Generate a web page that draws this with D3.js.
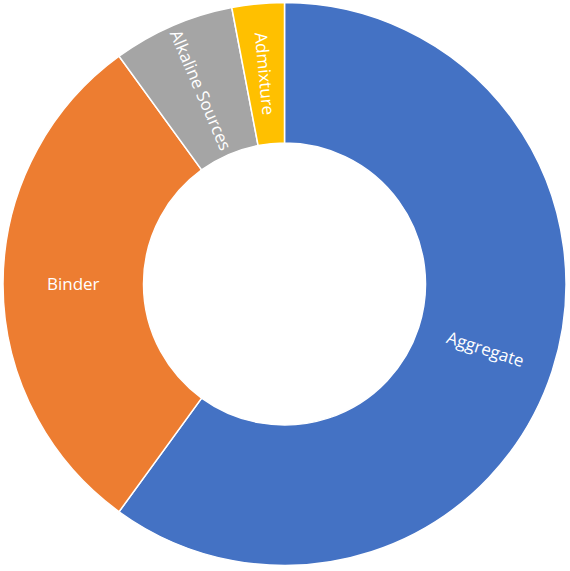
<!DOCTYPE html>
<html><head><meta charset="utf-8">
<script src="https://cdn.jsdelivr.net/npm/d3@7"></script>
<style>html,body{margin:0;padding:0;background:#fff;}</style>
</head><body>
<svg id="c" width="570" height="571"></svg>
<script>
const categories = ["Aggregate", "Binder", "Alkaline Sources", "Admixture"];
const values = [60, 30, 7, 3];
const colors = ["#4472C4", "#ED7D31", "#A5A5A5", "#FFC000"];

const svg = d3.select("#c");
const cx = 284.5, cy = 284, R = 281.5, r0 = 141;
const g = svg.append("g").attr("transform", `translate(${cx},${cy})`);
const data = categories.map((c, i) => ({name: c, value: values[i], color: colors[i]}));
const pie = d3.pie().sort(null).value(d => d.value);
const arc = d3.arc().innerRadius(r0).outerRadius(R);
const arcs = pie(data);
g.selectAll("path").data(arcs).join("path")
  .attr("d", arc).attr("fill", d => d.data.color)
  .attr("stroke", "#fff").attr("stroke-width", 1.5);
g.selectAll("text").data(arcs).join("text")
  .attr("transform", d => {
    const [x, y] = arc.centroid(d);
    const mid = (d.startAngle + d.endAngle) / 2 * 180 / Math.PI;
    let rot = mid - 90;
    if (rot > 90) rot -= 180;
    if (rot < -90) rot += 180;
    return `translate(${x},${y}) rotate(${rot})`;
  })
  .attr("text-anchor", "middle").attr("dy", "0.35em")
  .attr("fill", "#fff").style("font-family", "'Open Sans', sans-serif")
  .style("font-size", "17px")
  .text(d => d.data.name);
</script>
</body></html>
